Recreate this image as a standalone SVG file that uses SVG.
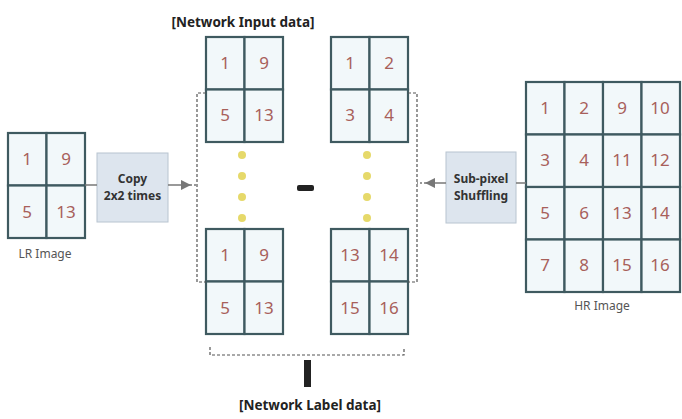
<svg xmlns="http://www.w3.org/2000/svg" width="682" height="419" viewBox="0 0 682 419">
<style>
.cell{fill:#f2f8fa;stroke:#3f5a60;stroke-width:2.2}
.num{font-family:"Noto Sans","DejaVu Sans",sans-serif;font-size:17px;fill:#a8605a;text-anchor:middle}
.lbl{font-family:"Noto Sans","DejaVu Sans",sans-serif;font-size:12px;fill:#555;text-anchor:middle}
.ttl{font-family:"Noto Sans","DejaVu Sans",sans-serif;font-size:13.5px;font-weight:bold;fill:#222;text-anchor:middle}
.box{fill:#dde5ee;stroke:#b8c4d0;stroke-width:1}
.btxt{font-family:"Noto Sans","DejaVu Sans",sans-serif;font-size:12px;font-weight:bold;fill:#333;text-anchor:middle}
.dash{fill:none;stroke:#555;stroke-width:1.2;stroke-dasharray:3 2}
.conn{fill:none;stroke:#777;stroke-width:1.5}
.dot{fill:#e6d96a}
</style>
<defs>
<marker id="ah" viewBox="0 0 10 10" refX="9" refY="5" markerWidth="7" markerHeight="7" orient="auto">
<path d="M0,0 L10,5 L0,10 Z" fill="#777"/>
</marker>
<g id="g2">
<rect class="cell" x="0" y="0" width="38.5" height="52.5"/>
<rect class="cell" x="38.5" y="0" width="38.5" height="52.5"/>
<rect class="cell" x="0" y="52.5" width="38.5" height="52.5"/>
<rect class="cell" x="38.5" y="52.5" width="38.5" height="52.5"/>
</g>
</defs>
<rect width="682" height="419" fill="#fff"/>

<g id="lr-image">
<use href="#g2" x="8" y="133"/>
<text class="num" x="27" y="165">1</text><text class="num" x="66" y="165">9</text>
<text class="num" x="27" y="218">5</text><text class="num" x="66" y="218">13</text>
<text class="lbl" x="45" y="258">LR Image</text>
</g>

<g id="copy-box">
<rect class="box" x="97" y="153" width="71" height="69"/>
<text class="btxt" x="132.5" y="183">Copy</text>
<text class="btxt" x="132.5" y="200">2x2 times</text>
</g>

<g id="title-input"><text class="ttl" x="243" y="27">[Network Input data]</text></g>

<g id="in-top">
<use href="#g2" x="206" y="37"/>
<text class="num" x="225" y="69">1</text><text class="num" x="264" y="69">9</text>
<text class="num" x="225" y="121">5</text><text class="num" x="264" y="121">13</text>
</g>
<g id="in-bottom">
<use href="#g2" x="206" y="229"/>
<text class="num" x="225" y="261">1</text><text class="num" x="264" y="261">9</text>
<text class="num" x="225" y="314">5</text><text class="num" x="264" y="314">13</text>
</g>
<g id="lb-top">
<use href="#g2" x="331" y="37"/>
<text class="num" x="350" y="69">1</text><text class="num" x="389" y="69">2</text>
<text class="num" x="350" y="121">3</text><text class="num" x="389" y="121">4</text>
</g>
<g id="lb-bottom">
<use href="#g2" x="331" y="229"/>
<text class="num" x="350" y="261">13</text><text class="num" x="389" y="261">14</text>
<text class="num" x="350" y="314">15</text><text class="num" x="389" y="314">16</text>
</g>

<g id="dots-left">
<circle class="dot" cx="242" cy="155" r="4"/><circle class="dot" cx="242" cy="176" r="4"/>
<circle class="dot" cx="242" cy="197" r="4"/><circle class="dot" cx="242" cy="218" r="4"/>
</g>
<g id="dots-right">
<circle class="dot" cx="367" cy="155" r="4"/><circle class="dot" cx="367" cy="176" r="4"/>
<circle class="dot" cx="367" cy="197" r="4"/><circle class="dot" cx="367" cy="218" r="4"/>
</g>

<g id="minus"><rect x="297" y="185" width="17" height="6" rx="2" fill="#222"/></g>

<g id="shuffle-box">
<rect class="box" x="446" y="152" width="70" height="71"/>
<text class="btxt" x="481" y="183">Sub-pixel</text>
<text class="btxt" x="481" y="200">Shuffling</text>
</g>

<g id="hr-image">
<use href="#g2" x="526" y="82"/>
<use href="#g2" x="603" y="82"/>
<use href="#g2" x="526" y="187"/>
<use href="#g2" x="603" y="187"/>
<text class="num" x="545" y="114">1</text><text class="num" x="584" y="114">2</text><text class="num" x="622" y="114">9</text><text class="num" x="660" y="114">10</text>
<text class="num" x="545" y="166">3</text><text class="num" x="584" y="166">4</text><text class="num" x="622" y="166">11</text><text class="num" x="660" y="166">12</text>
<text class="num" x="545" y="219">5</text><text class="num" x="584" y="219">6</text><text class="num" x="622" y="219">13</text><text class="num" x="660" y="219">14</text>
<text class="num" x="545" y="271">7</text><text class="num" x="584" y="271">8</text><text class="num" x="622" y="271">15</text><text class="num" x="660" y="271">16</text>
<text class="lbl" x="602" y="310">HR Image</text>
</g>

<g id="label-bar"><rect x="304" y="360" width="7" height="27" fill="#222"/></g>
<g id="title-label"><text class="ttl" x="310" y="410">[Network Label data]</text></g>

<g id="connectors">
<line class="conn" x1="85" y1="185" x2="97" y2="185"/>
<line class="conn" x1="168" y1="185" x2="190" y2="185" marker-end="url(#ah)"/>
<line class="conn" x1="190" y1="185" x2="197" y2="185" stroke-dasharray="2 2"/>
<line class="conn" x1="516" y1="183" x2="526" y2="183"/>
<line class="conn" x1="446" y1="183" x2="426" y2="183" marker-end="url(#ah)"/>
<line class="conn" x1="426" y1="183" x2="417" y2="183" stroke-dasharray="2 2"/>
<path class="dash" d="M206,93 H197 V282 H206"/>
<path class="dash" d="M408,93 H417 V282 H408"/>
<path class="dash" d="M210,347 V355 H404 V347"/>
</g>
</svg>
